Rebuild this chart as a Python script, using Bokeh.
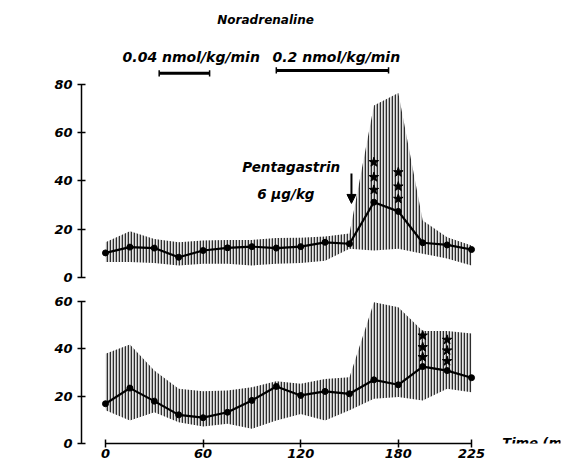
import math
from bokeh.plotting import figure
from bokeh.layouts import column
from bokeh.models import Label, Arrow, NormalHead, FixedTicker, Range1d
from bokeh.embed import file_html
from bokeh.resources import INLINE

# ---- data ----
times = [0, 15, 30, 45, 60, 75, 90, 105, 120, 135, 150, 165, 180, 195, 210, 225]

gastrin_mean = [10.2, 12.6, 12.2, 8.4, 11.2, 12.3, 12.8, 12.2, 12.8, 14.6, 14.0, 31.2, 27.4, 14.4, 13.5, 11.6]
gastrin_upper = [14.6, 19.2, 16.0, 14.6, 15.3, 15.6, 15.6, 16.4, 16.5, 17.0, 18.2, 71.3, 76.4, 23.6, 16.7, 13.3]
gastrin_lower = [6.4, 6.4, 6.0, 5.0, 5.7, 5.7, 5.0, 5.7, 6.0, 7.0, 11.9, 11.2, 11.9, 9.9, 7.9, 5.0]

pp_mean = [16.8, 23.4, 17.9, 12.1, 10.9, 13.2, 18.2, 24.1, 20.3, 22.0, 21.0, 26.9, 24.8, 32.5, 30.8, 27.8]
pp_upper = [37.9, 41.8, 30.8, 23.1, 22.1, 22.4, 23.8, 26.3, 25.2, 27.3, 28.0, 59.7, 57.6, 47.5, 47.5, 46.5]
pp_lower = [14.0, 9.7, 13.2, 9.0, 7.2, 8.3, 6.2, 9.7, 12.5, 9.7, 14.0, 18.9, 19.6, 18.2, 23.1, 21.7]

gastrin_star_t = [165, 165, 165, 180, 180, 180]
gastrin_star_v = [47.8, 41.6, 36.3, 43.6, 37.7, 32.6]
pp_star_t = [195, 195, 195, 210, 210, 210]
pp_star_v = [45.6, 40.7, 36.5, 43.8, 39.3, 34.8]

dose_labels = ["0.04 nmol/kg/min", "0.2 nmol/kg/min"]
dose_start = [33, 105]
dose_end = [64, 174]
dose_y = [84.6, 85.8]

gastrin_ticks = [0, 20, 40, 60, 80]
pp_ticks = [0, 20, 40, 60]
time_ticks = [0, 60, 120, 180, 225]

FONT = "DejaVu Sans"

X_RANGE = (-14.75, 279.7)


def style_yaxis(p, ticks):
    ax = p.yaxis[0]
    ax.ticker = FixedTicker(ticks=ticks)
    ax.bounds = (ticks[0], ticks[-1])
    ax.axis_line_width = 1.5
    ax.major_tick_line_width = 1.5
    ax.major_tick_in = 4
    ax.major_tick_out = 4
    ax.minor_tick_line_color = None
    ax.major_label_text_font = FONT
    ax.major_label_text_font_style = "bold italic"
    ax.major_label_text_font_size = "13px"
    ax.major_label_text_color = "black"
    ax.major_label_standoff = 5


def add_band(p, lower, upper, mean):
    p.varea(x=times, y1=lower, y2=upper, fill_color="#c8c8c8", fill_alpha=0.45,
            hatch_pattern="vertical_line", hatch_scale=3.0, hatch_weight=1.6,
            hatch_color="black", hatch_alpha=0.8)
    p.line(times, mean, line_color="black", line_width=2.2)
    p.scatter(times, mean, size=6, color="black")


def txt(p, x, y, s, size="13px", align="left", angle=0.0):
    p.add_layout(Label(x=x, y=y, text=s, text_font=FONT, text_font_style="bold italic",
                       text_font_size=size, text_color="black", text_align=align,
                       text_baseline="middle", angle=angle))


# ---- top panel: Gastrin ----
top = figure(width=571, height=290, output_backend="svg", toolbar_location=None,
             x_range=Range1d(*X_RANGE), y_range=Range1d(-3.3, 109.8),
             x_axis_location=None, min_border_left=81, min_border_right=11,
             min_border_top=12, min_border_bottom=5)
top.outline_line_color = None
top.grid.visible = False
style_yaxis(top, gastrin_ticks)
add_band(top, gastrin_lower, gastrin_upper, gastrin_mean)
top.scatter(gastrin_star_t, gastrin_star_v, marker="star", size=10, color="black")

# dose bars
top.segment(x0=dose_start, x1=dose_end, y0=dose_y, y1=dose_y, line_color="black", line_width=3)
top.segment(x0=dose_start, x1=dose_start, y0=[v - 1.3 for v in dose_y], y1=[v + 1.3 for v in dose_y],
            line_color="black", line_width=1.5)
top.segment(x0=dose_end, x1=dose_end, y0=[v - 1.3 for v in dose_y], y1=[v + 1.3 for v in dose_y],
            line_color="black", line_width=1.5)

txt(top, 98.4, 106.5, "Noradrenaline", size="12px", align="center")
txt(top, 10.5, 91.2, dose_labels[0], size="14px")
txt(top, 102.7, 91.2, dose_labels[1], size="14px")
txt(top, 84.0, 45.6, "Pentagastrin", size="13.5px")
txt(top, 93.3, 34.8, "6 \u03bcg/kg", size="13.5px")
txt(top, -54.1, 40.2, "Gastrin  (pM)", size="13px", align="center", angle=math.pi / 2)
top.add_layout(Arrow(end=NormalHead(size=9, fill_color="black", line_color="black"),
                     x_start=151.2, y_start=43.1, x_end=151.2, y_end=30.7,
                     line_width=2, line_color="black"))

# ---- bottom panel: PP ----
bot = figure(width=571, height=174, output_backend="svg", toolbar_location=None,
             x_range=Range1d(*X_RANGE), y_range=Range1d(0, 62.1),
             min_border_left=81, min_border_right=11, min_border_top=6, min_border_bottom=21)
bot.outline_line_color = None
bot.grid.visible = False
style_yaxis(bot, pp_ticks)
xa = bot.xaxis[0]
xa.ticker = FixedTicker(ticks=time_ticks)
xa.bounds = (time_ticks[0], time_ticks[-1])
xa.axis_line_width = 1.5
xa.major_tick_line_width = 1.5
xa.major_tick_in = 4
xa.major_tick_out = 4
xa.minor_tick_line_color = None
xa.major_label_text_font = FONT
xa.major_label_text_font_style = "bold italic"
xa.major_label_text_font_size = "13px"
xa.major_label_text_color = "black"
xa.major_label_standoff = 1

add_band(bot, pp_lower, pp_upper, pp_mean)
bot.scatter(pp_star_t, pp_star_v, marker="star", size=10, color="black")
txt(bot, -54.1, 33.8, "PP  (pM)", size="13px", align="center", angle=math.pi / 2)
txt(bot, 243.9, 0.6, "Time  (min)", size="13px")

layout = column(top, bot, spacing=0)
open("out.html", "w").write(file_html(layout, INLINE))
